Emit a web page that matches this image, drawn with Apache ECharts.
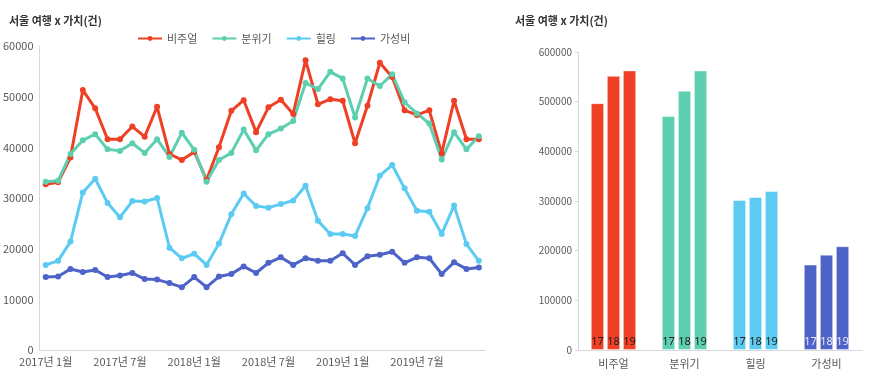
<!DOCTYPE html>
<html>
<head>
<meta charset="utf-8">
<script src="https://cdn.jsdelivr.net/npm/echarts@6/dist/echarts.min.js"></script>
<style>
html, body { margin: 0; padding: 0; background: #fff; }
#main { width: 875px; height: 375px; }
</style>
</head>
<body>
<div id="main"></div>
<script>
// 월별 데이터 (2017.01 ~ 2019.12)
var months = [];
for (var y = 2017; y <= 2019; y++) {
    for (var m = 1; m <= 12; m++) months.push(y + '년 ' + m + '월');
}
var visual = [32700, 33100, 38000, 51300, 47700, 41600, 41600, 44100, 42100, 48000, 38700, 37500,
    39100, 33600, 40000, 47200, 49300, 43000, 47900, 49400, 46600, 57200, 48500, 49500,
    49200, 40800, 48200, 56700, 53900, 47300, 46400, 47300, 38800, 49200, 41600, 41600];
var mood = [33200, 33400, 38700, 41400, 42600, 39600, 39300, 40800, 38900, 41600, 38100, 42900,
    39500, 33200, 37500, 38900, 43500, 39400, 42600, 43700, 45200, 52700, 51500, 54900,
    53600, 45900, 53600, 52100, 54400, 48900, 46700, 44700, 37600, 43000, 39600, 42200];
var healing = [16800, 17600, 21400, 31100, 33800, 29000, 26200, 29400, 29300, 30000, 20200, 18100,
    19000, 16800, 21000, 26800, 30900, 28400, 28100, 28800, 29500, 32400, 25500, 22900,
    22900, 22500, 28000, 34400, 36500, 31900, 27500, 27300, 22900, 28500, 20900, 17600];
var value = [14400, 14500, 16000, 15400, 15800, 14400, 14700, 15200, 14000, 13900, 13200, 12400,
    14400, 12400, 14500, 15000, 16500, 15200, 17200, 18300, 16800, 18100, 17600, 17600,
    19100, 16800, 18500, 18800, 19400, 17200, 18300, 18100, 15000, 17300, 16000, 16300];

// 연도별 합계
var types = ['비주얼', '분위기', '힐링', '가성비'];
var years = ['17', '18', '19'];
var total17 = [497000, 471000, 302000, 172000];
var total18 = [552000, 522000, 308000, 192000];
var total19 = [563000, 563000, 320000, 209000];

var colors = ['#ef3f24', '#5dcfb1', '#5bcbf2', '#4d63c8'];
var labelColors = ['#222', '#222', '#222', '#e8e8f4'];
var axisColor = '#d9d9d9';
var textColor = '#595959';

var chart = echarts.init(document.getElementById('main'));

function lineSeries(name, data, idx) {
    return {
        name: name,
        type: 'line',
        xAxisIndex: 0,
        yAxisIndex: 0,
        data: data,
        symbol: 'circle',
        symbolSize: 6,
        lineStyle: { width: 3, color: colors[idx] },
        itemStyle: { color: colors[idx] }
    };
}

function barSeries(yr, data) {
    return {
        name: yr,
        type: 'bar',
        xAxisIndex: 1,
        yAxisIndex: 1,
        barGap: '20%',
        barCategoryGap: '36%',
        data: data.map(function (v, i) {
            return {
                value: v,
                itemStyle: { color: colors[i] },
                label: { color: labelColors[i] }
            };
        }),
        itemStyle: { borderColor: 'rgba(255,255,255,0.45)', borderWidth: 1 },
        label: {
            show: true,
            position: 'insideBottom',
            distance: 3,
            formatter: yr,
            fontSize: 11,
            fontFamily: 'Noto Sans'
        }
    };
}

// 천 단위 쉼표 없이 표시
function plain(v) { return String(v); }

option = {
    animation: false,
    textStyle: { fontFamily: '"Noto Sans CJK KR", "Noto Sans", sans-serif' },
    title: [
        { text: '서울 여행 x 가치(건)', left: 4, top: 10, textStyle: { fontSize: 11, fontWeight: 'bold', color: '#333' } },
        { text: '서울 여행 x 가치(건)', left: 510, top: 10, textStyle: { fontSize: 11, fontWeight: 'bold', color: '#333' } }
    ],
    legend: {
        data: types,
        left: 132,
        top: 28,
        itemWidth: 24,
        itemHeight: 6,
        itemGap: 14,
        textStyle: { fontSize: 11, color: textColor }
    },
    grid: [
        { left: 36, right: 390, top: 46, bottom: 25 },
        { left: 578, right: 13, top: 52, bottom: 25 }
    ],
    xAxis: [
        {
            type: 'category',
            gridIndex: 0,
            data: months,
            axisLine: { lineStyle: { color: axisColor } },
            axisTick: { show: false },
            axisLabel: { interval: 5, color: textColor, fontSize: 11, margin: 6 }
        },
        {
            type: 'category',
            gridIndex: 1,
            data: types,
            axisLine: { lineStyle: { color: axisColor } },
            axisTick: { show: false },
            axisLabel: { color: textColor, fontSize: 11, margin: 8 }
        }
    ],
    yAxis: [
        {
            type: 'value',
            gridIndex: 0,
            min: 0, max: 60000, interval: 10000,
            axisLine: { show: true, lineStyle: { color: axisColor } },
            axisTick: { show: false },
            splitLine: { show: false },
            axisLabel: { color: textColor, fontSize: 11, margin: 6, formatter: plain }
        },
        {
            type: 'value',
            gridIndex: 1,
            min: 0, max: 600000, interval: 100000,
            axisLine: { show: true, lineStyle: { color: axisColor } },
            axisTick: { show: true, length: 3, lineStyle: { color: axisColor } },
            splitLine: { show: false },
            axisLabel: { color: textColor, fontSize: 10, margin: 6, formatter: plain }
        }
    ],
    series: [
        lineSeries('비주얼', visual, 0),
        lineSeries('분위기', mood, 1),
        lineSeries('힐링', healing, 2),
        lineSeries('가성비', value, 3),
        barSeries(years[0], total17),
        barSeries(years[1], total18),
        barSeries(years[2], total19)
    ]
};
chart.setOption(option);
</script>
</body>
</html>
